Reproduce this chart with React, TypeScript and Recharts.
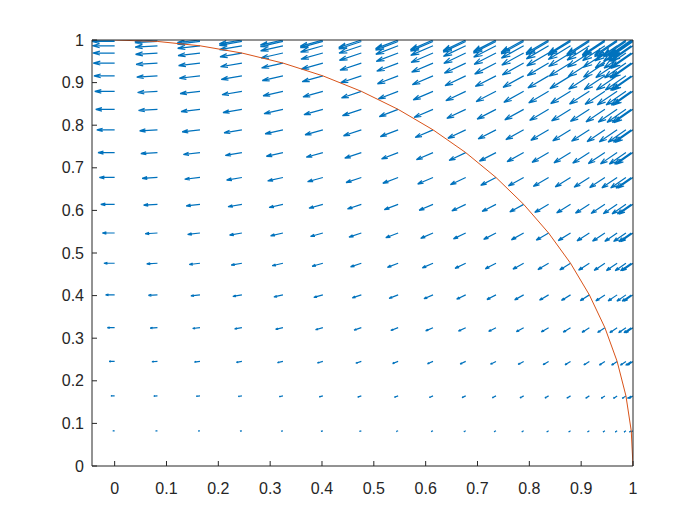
import React from 'react';
import { LineChart, Line, XAxis, YAxis } from 'recharts';

// Grid positions (sine-spaced)
const gridX = [0, 0.0826, 0.1646, 0.2455, 0.3247, 0.4017, 0.4759, 0.5469, 0.6142, 0.6773, 0.7357, 0.7891, 0.8372, 0.8795, 0.9158, 0.9458, 0.9694, 0.9864, 0.9966, 1];
const gridY = [0, 0.0826, 0.1646, 0.2455, 0.3247, 0.4017, 0.4759, 0.5469, 0.6142, 0.6773, 0.7357, 0.7891, 0.8372, 0.8795, 0.9158, 0.9458, 0.9694, 0.9864, 0.9966, 1];
// Horizontal arrow length (data units) per row
const rowLength = [0, 0.00361, 0.00719, 0.01073, 0.01419, 0.01755, 0.0208, 0.0239, 0.02684, 0.0296, 0.03215, 0.03448, 0.03659, 0.03843, 0.04002, 0.04133, 0.04236, 0.04311, 0.04355, 0.0437];
// Vertical/horizontal ratio of arrows per column
const columnSlope = [0, 0.07, 0.14, 0.209, 0.276, 0.341, 0.405, 0.465, 0.522, 0.576, 0.625, 0.671, 0.712, 0.748, 0.778, 0.804, 0.824, 0.838, 0.847, 0.85];

const xTicks = [0, 0.1, 0.2, 0.3, 0.4, 0.5, 0.6, 0.7, 0.8, 0.9, 1];
const yTicks = [0, 0.1, 0.2, 0.3, 0.4, 0.5, 0.6, 0.7, 0.8, 0.9, 1];

const HEAD_ALPHA = 0.33;
const HEAD_BETA = 0.33;

type P = { x: number; y: number | null };

function buildQuiver(): P[] {
  const pts: P[] = [];
  for (let j = 0; j < gridY.length; j++) {
    const L = rowLength[j];
    if (L === 0) continue;
    for (let i = 0; i < gridX.length; i++) {
      const x = gridX[i];
      const y = gridY[j];
      const u = -L;
      const v = -L * columnSlope[i];
      const tx = x + u;
      const ty = y + v;
      const h1x = tx - HEAD_ALPHA * (u + HEAD_BETA * v);
      const h1y = ty - HEAD_ALPHA * (v - HEAD_BETA * u);
      const h2x = tx - HEAD_ALPHA * (u - HEAD_BETA * v);
      const h2y = ty - HEAD_ALPHA * (v + HEAD_BETA * u);
      pts.push({ x, y }, { x: tx, y: ty }, { x: h1x, y: h1y }, { x: h1x, y: null });
      pts.push({ x: h2x, y: h2y }, { x: tx, y: ty }, { x: tx, y: null });
    }
  }
  return pts;
}

function buildArc(): P[] {
  const n = gridY.length;
  return gridY.map((y, k) => ({ x: gridX[n - 1 - k], y }));
}

const quiverData = buildQuiver();
const arcData = buildArc();

const AXIS_COLOR = '#262626';
const FONT = { fontSize: 16, fontFamily: '"Liberation Sans", Arial, Helvetica, sans-serif', fill: AXIS_COLOR };

export default function App() {
  return (
    <div style={{ position: 'absolute', left: 0, top: 0, width: 700, height: 525, background: '#fff' }}>
      <LineChart width={700} height={525} margin={{ top: 35, right: 62, bottom: 19, left: 0 }}>
        <XAxis
          xAxisId="b"
          dataKey="x"
          type="number"
          domain={[-0.0437, 1]}
          allowDataOverflow
          ticks={xTicks}
          interval={0}
          height={40}
          tickSize={-5}
          tickMargin={22}
          stroke={AXIS_COLOR}
          tick={FONT}
          tickLine={{ stroke: AXIS_COLOR }}
          axisLine={{ stroke: AXIS_COLOR }}
        />
        <XAxis
          xAxisId="t"
          orientation="top"
          dataKey="x"
          type="number"
          domain={[-0.0437, 1]}
          allowDataOverflow
          ticks={xTicks}
          interval={0}
          height={5}
          tickSize={-5}
          tick={false}
          stroke={AXIS_COLOR}
          tickLine={{ stroke: AXIS_COLOR }}
          axisLine={{ stroke: AXIS_COLOR }}
        />
        <YAxis
          yAxisId="l"
          type="number"
          domain={[0, 1]}
          allowDataOverflow
          ticks={yTicks}
          interval={0}
          width={92}
          tickSize={-5}
          tickMargin={13}
          stroke={AXIS_COLOR}
          tick={FONT}
          tickLine={{ stroke: AXIS_COLOR }}
          axisLine={{ stroke: AXIS_COLOR }}
        />
        <YAxis
          yAxisId="r"
          orientation="right"
          type="number"
          domain={[0, 1]}
          allowDataOverflow
          ticks={yTicks}
          interval={0}
          width={5}
          tickSize={-5}
          tick={false}
          stroke={AXIS_COLOR}
          tickLine={{ stroke: AXIS_COLOR }}
          axisLine={{ stroke: AXIS_COLOR }}
        />
        <Line
          xAxisId="b"
          yAxisId="l"
          data={quiverData}
          dataKey="y"
          stroke="#0072BD"
          strokeWidth={1.2}
          dot={false}
          activeDot={false}
          isAnimationActive={false}
          connectNulls={false}
          type="linear"
        />
        <Line
          xAxisId="b"
          yAxisId="l"
          data={arcData}
          dataKey="y"
          stroke="#D95319"
          strokeWidth={1}
          dot={false}
          activeDot={false}
          isAnimationActive={false}
          type="linear"
        />
      </LineChart>
    </div>
  );
}
